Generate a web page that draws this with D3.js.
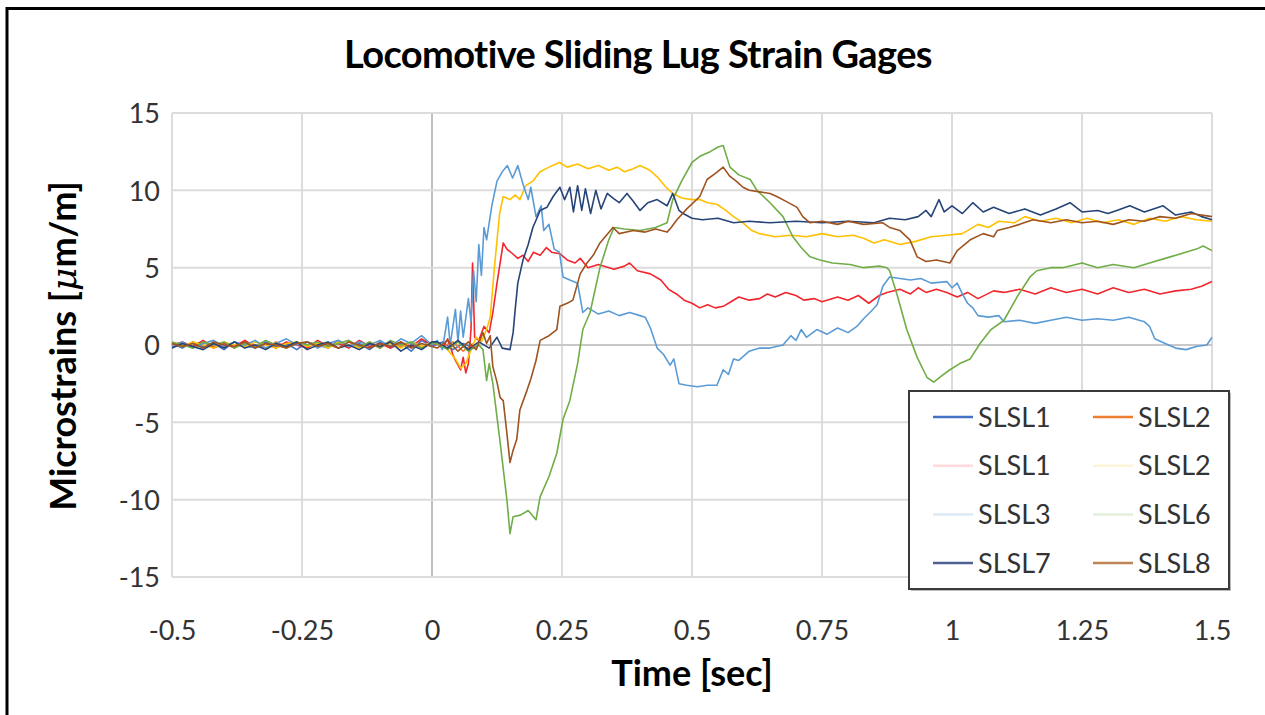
<!DOCTYPE html>
<html>
<head>
<meta charset="utf-8">
<script src="https://cdn.jsdelivr.net/npm/d3@7"></script>
<style>
  html, body { margin: 0; padding: 0; background: #fff; }
  svg { display: block; font-family: Lato, "Open Sans", sans-serif; }
</style>
</head>
<body>
<svg id="chart" width="1265" height="715"></svg>
<script>
// Chart data: [time (sec), microstrain]
const xTicks = [-0.5, -0.25, 0, 0.25, 0.5, 0.75, 1, 1.25, 1.5];
const yTicks = [15, 10, 5, 0, -5, -10, -15];

const seriesNames = ["SLSL1", "SLSL2", "SLSL1", "SLSL2", "SLSL3", "SLSL6", "SLSL7", "SLSL8"];

const slsl1a = [[-0.5,0.1],[-0.48,-0.2],[-0.46,0.2],[-0.44,-0.1],[-0.42,0.1],[-0.4,-0.3],[-0.38,0.2],[-0.36,0.0],[-0.34,-0.2],[-0.32,0.2],[-0.3,-0.1],[-0.28,0.1],[-0.26,-0.3],[-0.24,0.2],[-0.22,0.0],[-0.2,-0.2],[-0.18,0.3],[-0.16,-0.1],[-0.14,0.1],[-0.12,-0.3],[-0.1,0.2],[-0.08,-0.2],[-0.06,0.1],[-0.04,-0.4],[-0.02,0.3],[0,-0.1],[0.02,0.2],[0.04,-0.3],[0.06,0.1],[0.08,-0.2]];
const slsl2a = [[-0.5,-0.1],[-0.48,0.1],[-0.46,-0.2],[-0.44,0.2],[-0.42,-0.1],[-0.4,0.1],[-0.38,-0.2],[-0.36,0.2],[-0.34,0.0],[-0.32,-0.2],[-0.3,0.2],[-0.28,-0.1],[-0.26,0.1],[-0.24,-0.2],[-0.22,0.2],[-0.2,0.0],[-0.18,-0.2],[-0.16,0.2],[-0.14,-0.1],[-0.12,0.1],[-0.1,-0.2],[-0.08,0.2],[-0.06,-0.1],[-0.04,0.2],[-0.02,-0.2],[0,0.2],[0.02,-0.1],[0.04,0.2],[0.06,-0.4],[0.08,0.1]];
const slsl1b = [[-0.5,0.0],[-0.48,0.2],[-0.46,-0.1],[-0.44,0.3],[-0.42,-0.2],[-0.4,0.1],[-0.38,-0.1],[-0.36,0.3],[-0.34,-0.1],[-0.32,0.1],[-0.3,-0.2],[-0.28,0.2],[-0.26,0.0],[-0.24,-0.2],[-0.22,0.3],[-0.2,-0.1],[-0.18,0.1],[-0.16,-0.2],[-0.14,0.3],[-0.12,-0.1],[-0.1,0.1],[-0.08,-0.2],[-0.06,0.2],[-0.04,-0.1],[-0.02,0.4],[0,0.0],[0.01,0.2],[0.02,-0.2],[0.03,0.4],[0.04,-0.6],[0.045,-1.0],[0.055,-1.6],[0.06,-0.8],[0.065,-1.8],[0.07,-1.2],[0.075,1.0],[0.078,5.3],[0.082,0.5],[0.09,0.3],[0.1,1.2],[0.11,0.8],[0.117,2.1],[0.125,4.0],[0.137,6.6],[0.144,6.2],[0.155,5.9],[0.165,5.6],[0.175,5.8],[0.185,5.4],[0.195,6.0],[0.208,5.8],[0.22,6.3],[0.23,6.0],[0.246,5.9],[0.26,5.5],[0.275,5.3],[0.285,5.6],[0.3,5.0],[0.32,5.2],[0.35,4.9],[0.37,5.1],[0.38,5.3],[0.395,4.8],[0.42,4.6],[0.44,4.2],[0.455,3.6],[0.47,3.3],[0.485,2.9],[0.5,2.7],[0.515,2.4],[0.53,2.6],[0.545,2.4],[0.56,2.5],[0.575,2.8],[0.59,3.1],[0.61,2.9],[0.63,3.0],[0.645,3.3],[0.66,3.1],[0.68,3.4],[0.7,3.2],[0.715,2.9],[0.735,3.0],[0.75,2.8],[0.78,3.1],[0.8,2.9],[0.82,3.2],[0.84,2.7],[0.86,3.2],[0.875,3.4],[0.9,3.6],[0.92,3.3],[0.935,3.7],[0.95,3.4],[0.97,3.6],[0.99,3.4],[1.01,3.1],[1.03,3.4],[1.05,3.0],[1.08,3.5],[1.1,3.4],[1.13,3.6],[1.16,3.3],[1.19,3.7],[1.22,3.4],[1.25,3.6],[1.28,3.3],[1.31,3.7],[1.34,3.4],[1.37,3.6],[1.4,3.3],[1.43,3.5],[1.46,3.6],[1.48,3.8],[1.5,4.1]];
const slsl2b = [[-0.5,0.1],[-0.48,-0.1],[-0.46,0.2],[-0.44,0.0],[-0.42,-0.2],[-0.4,0.2],[-0.38,0.0],[-0.36,-0.1],[-0.34,0.2],[-0.32,0.0],[-0.3,-0.2],[-0.28,0.1],[-0.26,0.2],[-0.24,-0.1],[-0.22,0.1],[-0.2,-0.2],[-0.18,0.2],[-0.16,0.0],[-0.14,-0.2],[-0.12,0.2],[-0.1,-0.1],[-0.08,0.1],[-0.06,-0.2],[-0.04,0.2],[-0.02,-0.1],[0,0.2],[0.01,0.2],[0.03,-0.3],[0.045,-0.9],[0.055,-1.5],[0.065,-1.2],[0.075,-0.3],[0.085,0.5],[0.095,0.2],[0.105,1.0],[0.112,1.8],[0.12,5.0],[0.13,8.5],[0.137,9.6],[0.15,9.4],[0.16,9.7],[0.169,9.4],[0.18,10.3],[0.194,10.6],[0.208,11.2],[0.225,11.5],[0.245,11.8],[0.26,11.5],[0.28,11.7],[0.3,11.4],[0.32,11.6],[0.34,11.3],[0.356,11.5],[0.37,11.2],[0.387,11.4],[0.4,11.6],[0.419,11.3],[0.435,10.8],[0.45,10.2],[0.463,9.8],[0.48,9.5],[0.5,9.4],[0.515,9.4],[0.53,9.2],[0.548,9.1],[0.565,8.7],[0.58,8.3],[0.598,7.9],[0.615,7.4],[0.63,7.2],[0.66,7.0],[0.69,7.1],[0.72,7.0],[0.75,7.2],[0.78,7.0],[0.81,7.1],[0.83,6.9],[0.85,6.6],[0.87,6.8],[0.9,6.5],[0.93,6.7],[0.96,7.0],[0.99,7.1],[1.02,7.2],[1.05,7.8],[1.07,7.6],[1.09,8.0],[1.12,7.9],[1.14,8.3],[1.17,8.0],[1.2,8.2],[1.23,7.9],[1.26,8.2],[1.29,7.9],[1.32,8.1],[1.35,7.8],[1.38,8.2],[1.41,8.0],[1.44,8.3],[1.47,8.1],[1.5,8.0]];
const slsl3 = [[-0.5,-0.1],[-0.48,0.2],[-0.46,-0.2],[-0.44,0.1],[-0.42,0.3],[-0.4,-0.1],[-0.38,0.2],[-0.36,0.0],[-0.34,0.3],[-0.32,-0.2],[-0.3,0.1],[-0.28,0.4],[-0.26,0.0],[-0.24,0.2],[-0.22,-0.2],[-0.2,0.1],[-0.18,0.3],[-0.16,-0.1],[-0.14,0.2],[-0.12,0.0],[-0.1,0.3],[-0.08,-0.1],[-0.06,0.4],[-0.04,0.1],[-0.02,0.6],[0,0.0],[0.01,0.3],[0.02,-0.3],[0.03,1.8],[0.035,0.0],[0.045,2.3],[0.05,0.2],[0.055,2.2],[0.06,0.5],[0.07,3.0],[0.075,1.5],[0.08,4.8],[0.085,2.8],[0.09,6.5],[0.095,4.5],[0.1,7.6],[0.105,6.8],[0.115,9.0],[0.125,10.6],[0.135,11.2],[0.145,11.6],[0.155,10.8],[0.165,11.6],[0.175,10.4],[0.185,9.4],[0.19,10.2],[0.2,8.3],[0.21,9.0],[0.215,7.4],[0.225,7.8],[0.235,6.2],[0.245,6.0],[0.252,4.4],[0.265,4.2],[0.28,4.0],[0.29,2.1],[0.3,2.4],[0.32,2.0],[0.34,2.2],[0.36,1.9],[0.38,2.1],[0.4,1.9],[0.41,1.8],[0.42,1.1],[0.433,-0.2],[0.445,-0.6],[0.458,-1.3],[0.465,-0.9],[0.475,-2.5],[0.49,-2.6],[0.51,-2.7],[0.53,-2.6],[0.548,-2.6],[0.56,-1.6],[0.57,-1.9],[0.58,-0.9],[0.59,-1.0],[0.61,-0.4],[0.63,-0.2],[0.65,-0.2],[0.675,0.0],[0.69,0.6],[0.7,0.3],[0.71,1.0],[0.72,0.5],[0.74,1.0],[0.76,0.7],[0.78,1.1],[0.8,0.8],[0.817,1.2],[0.83,1.7],[0.845,2.2],[0.856,2.6],[0.867,3.8],[0.88,4.4],[0.9,4.3],[0.92,4.2],[0.94,4.3],[0.96,4.0],[0.99,4.1],[1.0,3.7],[1.01,4.0],[1.02,3.3],[1.03,2.7],[1.04,2.4],[1.05,1.9],[1.07,1.8],[1.09,1.9],[1.1,1.5],[1.13,1.6],[1.16,1.4],[1.19,1.6],[1.22,1.8],[1.25,1.6],[1.28,1.7],[1.31,1.6],[1.34,1.8],[1.37,1.5],[1.38,1.2],[1.39,0.4],[1.41,0.1],[1.43,-0.2],[1.45,-0.3],[1.47,-0.1],[1.49,0.0],[1.5,0.5]];
const slsl6 = [[-0.5,0.2],[-0.48,0.0],[-0.46,-0.2],[-0.44,0.2],[-0.42,0.0],[-0.4,0.2],[-0.38,-0.2],[-0.36,0.1],[-0.34,-0.1],[-0.32,0.3],[-0.3,0.0],[-0.28,-0.2],[-0.26,0.2],[-0.24,0.0],[-0.22,0.2],[-0.2,-0.1],[-0.18,0.1],[-0.16,0.3],[-0.14,-0.1],[-0.12,0.2],[-0.1,-0.2],[-0.08,0.3],[-0.06,0.0],[-0.04,0.2],[-0.02,-0.2],[0,0.1],[0.01,0.1],[0.03,-0.3],[0.05,0.2],[0.07,-0.4],[0.09,0.0],[0.098,-0.3],[0.105,-2.3],[0.11,-1.2],[0.117,-2.5],[0.13,-6.0],[0.144,-10.0],[0.15,-12.2],[0.156,-11.1],[0.17,-11.0],[0.185,-10.7],[0.2,-11.3],[0.208,-9.8],[0.225,-8.5],[0.24,-7.0],[0.252,-4.8],[0.265,-3.6],[0.28,-1.2],[0.29,1.0],[0.304,2.1],[0.323,5.0],[0.34,6.8],[0.35,7.6],[0.37,7.5],[0.4,7.4],[0.43,7.6],[0.452,7.9],[0.463,9.4],[0.48,10.6],[0.5,11.8],[0.515,12.2],[0.535,12.5],[0.55,12.8],[0.56,12.9],[0.573,11.5],[0.59,11.0],[0.612,10.7],[0.625,10.0],[0.65,9.2],[0.675,8.3],[0.694,7.0],[0.71,6.3],[0.727,5.7],[0.746,5.5],[0.77,5.3],[0.804,5.2],[0.83,5.0],[0.86,5.1],[0.875,5.0],[0.88,4.8],[0.894,3.3],[0.913,1.0],[0.933,-0.8],[0.952,-2.1],[0.965,-2.4],[0.98,-2.0],[0.996,-1.6],[1.015,-1.2],[1.035,-0.9],[1.054,0.1],[1.075,1.0],[1.1,1.6],[1.125,3.1],[1.15,4.4],[1.163,4.8],[1.19,5.0],[1.213,5.0],[1.25,5.3],[1.28,5.0],[1.31,5.2],[1.35,5.0],[1.38,5.3],[1.41,5.6],[1.44,5.9],[1.47,6.2],[1.483,6.4],[1.5,6.1]];
const slsl7 = [[-0.5,-0.2],[-0.48,0.1],[-0.46,-0.1],[-0.44,-0.3],[-0.42,0.1],[-0.4,-0.2],[-0.38,0.2],[-0.36,-0.2],[-0.34,0.0],[-0.32,-0.3],[-0.3,0.1],[-0.28,-0.1],[-0.26,0.2],[-0.24,-0.3],[-0.22,0.0],[-0.2,0.2],[-0.18,-0.2],[-0.16,0.0],[-0.14,-0.3],[-0.12,0.1],[-0.1,-0.1],[-0.08,0.2],[-0.06,-0.4],[-0.04,0.0],[-0.02,-0.3],[0,0.2],[0.01,0.2],[0.03,-0.2],[0.05,0.3],[0.07,-0.3],[0.09,0.2],[0.11,-0.2],[0.125,0.5],[0.135,-0.2],[0.15,-0.3],[0.156,0.8],[0.16,2.3],[0.165,4.0],[0.175,5.5],[0.185,6.5],[0.194,7.6],[0.208,8.7],[0.221,8.9],[0.233,9.6],[0.246,10.2],[0.255,9.4],[0.265,10.2],[0.272,8.6],[0.28,10.3],[0.288,8.7],[0.295,10.1],[0.305,8.5],[0.315,10.0],[0.325,8.8],[0.337,9.8],[0.348,9.5],[0.36,9.2],[0.375,9.8],[0.387,9.3],[0.4,8.7],[0.415,9.2],[0.433,9.4],[0.452,9.0],[0.463,9.8],[0.475,8.7],[0.483,8.5],[0.5,8.2],[0.52,8.1],[0.55,8.2],[0.58,7.9],[0.61,8.0],[0.65,7.9],[0.7,8.0],[0.75,7.9],[0.8,8.0],[0.85,7.9],[0.88,8.2],[0.91,8.1],[0.935,8.3],[0.95,8.7],[0.96,8.3],[0.975,9.4],[0.985,8.6],[1.0,9.0],[1.02,8.5],[1.04,9.2],[1.06,8.6],[1.08,8.9],[1.11,8.5],[1.14,8.8],[1.17,8.4],[1.2,8.8],[1.227,9.2],[1.25,8.6],[1.28,8.7],[1.3,8.5],[1.317,8.7],[1.342,9.0],[1.37,8.6],[1.406,9.0],[1.43,8.4],[1.46,8.6],[1.48,8.3],[1.5,8.1]];
const slsl8 = [[-0.5,0.1],[-0.48,-0.1],[-0.46,0.1],[-0.44,-0.2],[-0.42,0.2],[-0.4,0.0],[-0.38,-0.1],[-0.36,0.2],[-0.34,-0.2],[-0.32,0.1],[-0.3,0.0],[-0.28,-0.2],[-0.26,0.1],[-0.24,0.2],[-0.22,-0.1],[-0.2,0.1],[-0.18,-0.2],[-0.16,0.2],[-0.14,0.0],[-0.12,-0.2],[-0.1,0.1],[-0.08,-0.1],[-0.06,0.2],[-0.04,-0.2],[-0.02,0.1],[0,-0.1],[0.01,-0.2],[0.03,0.3],[0.05,-0.4],[0.07,0.2],[0.085,-0.3],[0.098,0.8],[0.105,0.1],[0.112,0.6],[0.117,-1.4],[0.125,-2.4],[0.131,-3.4],[0.137,-3.6],[0.144,-5.7],[0.15,-7.6],[0.156,-6.8],[0.163,-6.1],[0.169,-4.2],[0.183,-2.9],[0.19,-2.2],[0.2,-1.0],[0.208,0.3],[0.225,0.6],[0.24,1.0],[0.246,2.5],[0.26,2.7],[0.271,2.9],[0.285,4.6],[0.298,5.3],[0.31,5.8],[0.323,6.6],[0.348,7.6],[0.36,7.2],[0.387,7.4],[0.41,7.3],[0.43,7.5],[0.452,7.3],[0.46,7.6],[0.471,8.1],[0.49,8.8],[0.515,9.6],[0.529,10.7],[0.545,11.1],[0.56,11.5],[0.573,10.9],[0.585,10.6],[0.598,10.2],[0.61,10.0],[0.63,9.9],[0.65,9.8],[0.663,9.6],[0.68,9.3],[0.702,8.9],[0.713,8.3],[0.727,7.9],[0.75,8.0],[0.78,7.8],[0.8,8.0],[0.83,7.8],[0.867,7.9],[0.88,7.6],[0.9,7.4],[0.919,6.8],[0.933,5.7],[0.95,5.4],[0.97,5.5],[0.996,5.3],[1.01,6.1],[1.035,6.8],[1.06,7.2],[1.08,7.0],[1.087,7.4],[1.11,7.6],[1.13,7.8],[1.156,8.1],[1.19,7.9],[1.22,8.1],[1.25,7.9],[1.28,8.0],[1.31,7.8],[1.34,8.1],[1.37,8.0],[1.4,8.3],[1.43,8.2],[1.46,8.5],[1.5,8.3]];

const seriesData = [slsl1a, slsl2a, slsl1b, slsl2b, slsl3, slsl6, slsl7, slsl8];
const lineColors = ["#4472C4", "#ED7D31", "#F2262E", "#FFC000", "#5B9BD5", "#70AD47", "#264478", "#9E5320"];
const legendColors = ["#4472C4", "#ED7D31", "#FFD9DC", "#FFF3DA", "#DDEAF6", "#E2EFDA", "#4D6291", "#BE8456"];

const svg = d3.select("#chart");
svg.append("rect").attr("width", 1265).attr("height", 715).attr("fill", "#fff");

// Outer chart frame (only the top and left edges show)
svg.append("path")
  .attr("d", "M7,715 V8.5 H1265")
  .attr("fill", "none")
  .attr("stroke", "#000")
  .attr("stroke-width", 3);

const plot = { left: 172, right: 1212, top: 113, bottom: 577 };

const x = d3.scaleLinear().domain([-0.5, 1.5]).range([plot.left, plot.right]);
const y = d3.scaleLinear().domain([-15, 15]).range([plot.bottom, plot.top]);

// Gridlines
const grid = svg.append("g");
grid.selectAll("line.v")
  .data(xTicks)
  .join("line")
  .attr("class", "v")
  .attr("x1", d => x(d)).attr("x2", d => x(d))
  .attr("y1", plot.top).attr("y2", plot.bottom)
  .attr("stroke", d => d === 0 ? "#bfbfbf" : "#dcdcdc")
  .attr("stroke-width", 2);
grid.selectAll("line.h")
  .data(yTicks)
  .join("line")
  .attr("class", "h")
  .attr("x1", plot.left).attr("x2", plot.right)
  .attr("y1", d => y(d)).attr("y2", d => y(d))
  .attr("stroke", d => d === 0 ? "#c8c8c8" : "#dcdcdc")
  .attr("stroke-width", 2);

// Axes: labels only, no domain line or tick marks; plain hyphen for negatives
const fmt = d => String(d);
const xAxis = svg.append("g")
  .attr("transform", `translate(0,${plot.bottom})`)
  .call(d3.axisBottom(x).tickValues(xTicks).tickSize(0).tickPadding(44).tickFormat(fmt));
const yAxis = svg.append("g")
  .attr("transform", `translate(${plot.left},0)`)
  .call(d3.axisLeft(y).tickValues(yTicks).tickSize(0).tickPadding(12).tickFormat(fmt));
[xAxis, yAxis].forEach(a => {
  a.select(".domain").remove();
  a.selectAll("text")
    .attr("font-family", "Lato, sans-serif")
    .attr("font-size", 27)
    .attr("fill", "#333");
});
yAxis.selectAll("text").attr("dy", "0.36em");

// Series
const line = d3.line().x(d => x(d[0])).y(d => y(d[1]));
svg.append("g")
  .selectAll("path")
  .data(seriesData)
  .join("path")
  .attr("d", line)
  .attr("fill", "none")
  .attr("stroke", (d, i) => lineColors[i])
  .attr("stroke-width", 1.6)
  .attr("stroke-linejoin", "round");

// Title and axis titles
svg.append("text")
  .attr("x", 638).attr("y", 68)
  .attr("text-anchor", "middle")
  .attr("font-size", 38).attr("font-weight", "bold")
  .attr("letter-spacing", -0.6)
  .attr("fill", "#000")
  .text("Locomotive Sliding Lug Strain Gages");

svg.append("text")
  .attr("x", 692).attr("y", 686)
  .attr("text-anchor", "middle")
  .attr("font-size", 36).attr("font-weight", "bold")
  .text("Time [sec]");

const yTitle = svg.append("text")
  .attr("transform", "translate(76,346) rotate(-90)")
  .attr("text-anchor", "middle")
  .attr("font-size", 36).attr("font-weight", "bold");
yTitle.append("tspan").text("Microstrains [");
yTitle.append("tspan")
  .attr("font-family", "DejaVu Serif, serif")
  .attr("font-style", "italic").attr("font-weight", "normal")
  .text("μ");
yTitle.append("tspan").text("m/m]");

// Legend
const legend = svg.append("g");
legend.append("rect")
  .attr("x", 911).attr("y", 393).attr("width", 320).attr("height", 198)
  .attr("fill", "#bbb");
legend.append("rect")
  .attr("x", 909).attr("y", 391).attr("width", 320).attr("height", 198)
  .attr("fill", "#fff").attr("stroke", "#3a3a3a").attr("stroke-width", 2);

const legendItems = legend.selectAll("g.item")
  .data(seriesNames)
  .join("g")
  .attr("class", "item")
  .attr("transform", (d, i) => `translate(${i % 2 === 0 ? 933 : 1093},${417 + Math.floor(i / 2) * 48.7})`);
legendItems.append("line")
  .attr("x1", 0).attr("x2", 40)
  .attr("stroke", (d, i) => legendColors[i])
  .attr("stroke-width", 2.5);
legendItems.append("text")
  .attr("x", 45).attr("dy", "0.36em")
  .attr("font-size", 27).attr("fill", "#333")
  .text(d => d);
</script>
</body>
</html>
